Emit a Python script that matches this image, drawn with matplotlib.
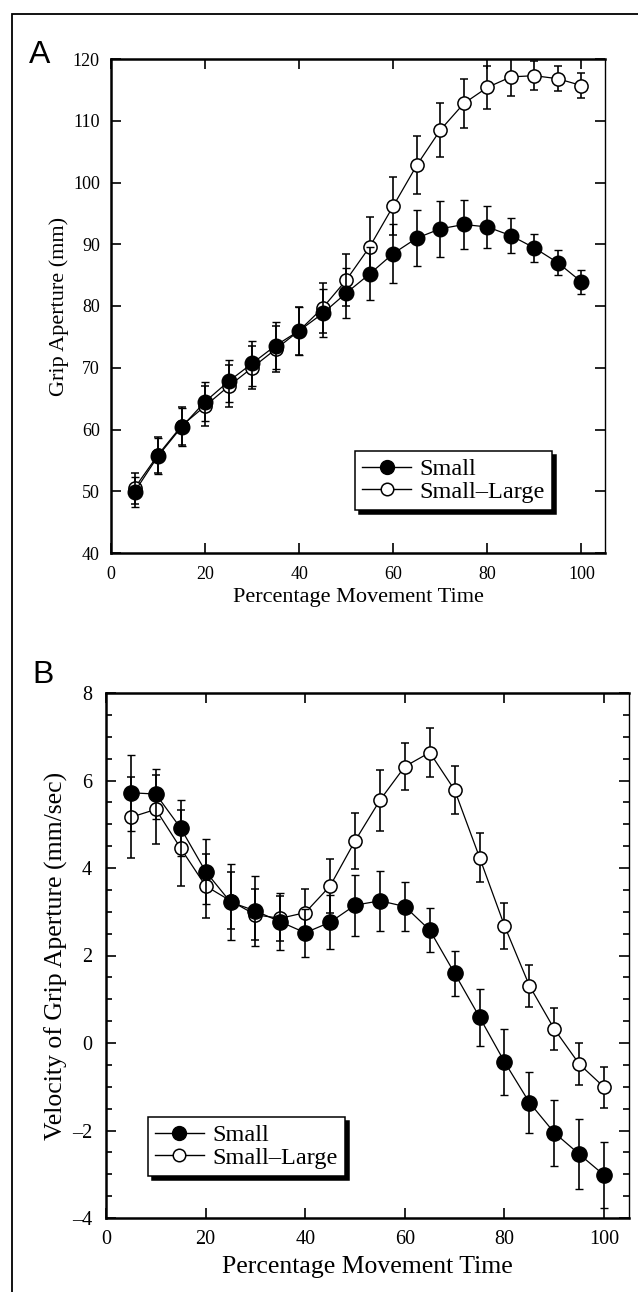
import matplotlib
matplotlib.use("Agg")
import matplotlib.pyplot as plt
from matplotlib.patches import Rectangle
from matplotlib.lines import Line2D
from matplotlib.ticker import MultipleLocator, FuncFormatter

# ---------------- data ----------------
pct = [5, 10, 15, 20, 25, 30, 35, 40, 45, 50, 55, 60, 65, 70, 75, 80, 85, 90, 95, 100]

# Panel A: grip aperture (mm)
ap_small = [49.9, 55.7, 60.4, 64.5, 67.8, 70.7, 73.6, 76.0, 78.8, 82.1, 85.2, 88.5,
            91.0, 92.5, 93.2, 92.8, 91.4, 89.4, 87.0, 83.9]
ap_small_err = [2.4, 2.9, 3.1, 3.2, 3.4, 3.6, 3.8, 3.9, 3.9, 4.1, 4.3, 4.7,
                4.6, 4.5, 4.0, 3.4, 2.8, 2.3, 2.0, 1.9]
ap_sl = [50.5, 55.9, 60.6, 63.8, 67.0, 70.0, 73.0, 76.0, 79.7, 84.2, 89.6, 96.2,
         102.8, 108.5, 112.8, 115.4, 117.1, 117.3, 116.8, 115.7]
ap_sl_err = [2.5, 2.9, 3.1, 3.2, 3.4, 3.5, 3.7, 3.9, 4.0, 4.2, 4.8, 4.7,
             4.7, 4.4, 4.0, 3.5, 3.1, 2.3, 2.0, 2.0]

# Panel B: velocity of grip aperture (mm/sec)
v_small = [5.72, 5.69, 4.91, 3.92, 3.22, 3.02, 2.77, 2.52, 2.76, 3.15, 3.25, 3.12,
           2.58, 1.59, 0.59, -0.43, -1.36, -2.05, -2.54, -3.02]
v_small_err = [0.87, 0.58, 0.64, 0.75, 0.87, 0.80, 0.65, 0.55, 0.62, 0.70, 0.69, 0.57,
               0.51, 0.51, 0.65, 0.76, 0.70, 0.75, 0.80, 0.75]
v_sl = [5.16, 5.34, 4.45, 3.59, 3.25, 2.93, 2.85, 2.98, 3.59, 4.62, 5.55, 6.32,
        6.64, 5.78, 4.24, 2.68, 1.31, 0.32, -0.48, -1.01]
v_sl_err = [0.93, 0.79, 0.87, 0.73, 0.65, 0.58, 0.52, 0.53, 0.62, 0.64, 0.70, 0.53,
            0.56, 0.55, 0.55, 0.52, 0.48, 0.47, 0.48, 0.47]

labels = ["Small", "Small\u2013Large"]

# ---------------- style ----------------
plt.rcParams["font.family"] = ["Liberation Serif", "DejaVu Serif"]

W, H = 638, 1292
fig = plt.figure(figsize=(W / 100, H / 100), dpi=100)

# outer frame
fig.patches.append(Rectangle((12 / W, -0.1), 1.2, 1.1 - 14 / H,
                             transform=fig.transFigure, fill=False,
                             edgecolor="black", linewidth=1.3))


def px_axes(left, top, right, bottom):
    return fig.add_axes([left / W, 1 - bottom / H, (right - left) / W, (bottom - top) / H])


def style_axes(ax, tsize, ypad, xpad):
    for s in ["left", "bottom", "top"]:
        ax.spines[s].set_linewidth(1.8)
    ax.spines["right"].set_linewidth(1.0)
    ax.tick_params(which="both", direction="in", top=True, right=True,
                   labelsize=tsize, width=1.2)
    ax.tick_params(axis="y", which="major", length=7, pad=ypad)
    ax.tick_params(axis="x", which="major", length=7, pad=xpad)
    ax.tick_params(which="minor", length=4)


def draw_series(ax, y1, e1, y2, e2, ms1, ms2):
    ax.errorbar(pct, y2, yerr=e2, fmt="o", color="black", mfc="white", mec="black",
                ms=ms2, mew=1.1, lw=0.9, elinewidth=1.2, capsize=3, capthick=1.2,
                linestyle="-", zorder=3)
    ax.errorbar(pct, y1, yerr=e1, fmt="o", color="black", mfc="black", mec="black",
                ms=ms1, mew=1.0, lw=0.9, elinewidth=1.2, capsize=3, capthick=1.2,
                linestyle="-", zorder=4)


def add_legend(ax, loc, anchor):
    handles = [Line2D([], [], color="black", lw=1.0, marker="o", mfc="black",
                      mec="black", ms=10),
               Line2D([], [], color="black", lw=1.0, marker="o", mfc="white",
                      mec="black", ms=9, mew=1.1)]
    leg = ax.legend(handles, labels, loc=loc, bbox_to_anchor=anchor,
                    fontsize=17.5, frameon=True, fancybox=False, edgecolor="black",
                    framealpha=1, handlelength=2.0, handletextpad=0.35, borderpad=0.3,
                    labelspacing=0.02, borderaxespad=0,
                    shadow={"color": "black", "alpha": 1, "ox": 3, "oy": -3})
    leg.get_frame().set_linewidth(1.1)
    return leg


dash_fmt = FuncFormatter(lambda v, p: ("\u2013%g" % abs(v)) if v < 0 else "%g" % v)

# ---------------- Panel A ----------------
axA = px_axes(111, 59, 605, 553)
style_axes(axA, 13, 8, 9)
draw_series(axA, ap_small, ap_small_err, ap_sl, ap_sl_err, 10.5, 9.5)
axA.set_xlim(0, 105)
axA.set_ylim(40, 120)
axA.xaxis.set_major_locator(MultipleLocator(20))
axA.yaxis.set_major_locator(MultipleLocator(10))
axA.set_xlabel("Percentage Movement Time", fontsize=16, labelpad=4)
axA.set_ylabel("Grip Aperture (mm)", fontsize=16, labelpad=3)
add_legend(axA, "lower right", (0.893, 0.087))
fig.text(29 / W, 1 - 63 / H, "A", fontsize=23, family="Liberation Sans",
         ha="left", va="baseline")

# ---------------- Panel B ----------------
axB = px_axes(106, 693, 629, 1218)
style_axes(axB, 14.5, 10, 9)
draw_series(axB, v_small, v_small_err, v_sl, v_sl_err, 11, 9.5)
axB.set_xlim(0, 105)
axB.set_ylim(-4, 8)
axB.xaxis.set_major_locator(MultipleLocator(20))
axB.yaxis.set_major_locator(MultipleLocator(2))
axB.yaxis.set_minor_locator(MultipleLocator(0.5))
axB.yaxis.set_major_formatter(dash_fmt)
axB.set_xlabel("Percentage Movement Time", fontsize=18.5, labelpad=5)
axB.set_ylabel("Velocity of Grip Aperture (mm/sec)", fontsize=18.5, labelpad=3)
add_legend(axB, "lower left", (0.080, 0.080))
fig.text(32 / W, 1 - 683 / H, "B", fontsize=23, family="Liberation Sans",
         ha="left", va="baseline")

fig.savefig("out.png", dpi=100)
